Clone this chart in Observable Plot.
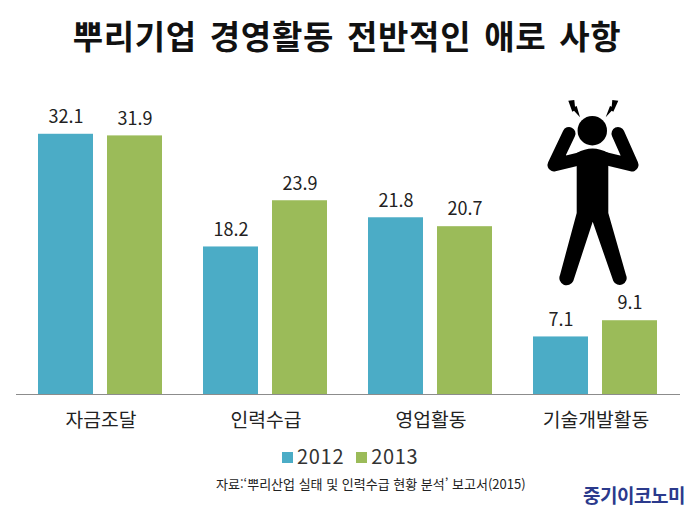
<!DOCTYPE html>
<html lang="ko"><head><meta charset="utf-8">
<script src="https://cdn.jsdelivr.net/npm/d3@7"></script>
<script src="https://cdn.jsdelivr.net/npm/@observablehq/plot@0.6"></script>
<style>
html,body{margin:0;padding:0;background:#fff;}
body{width:700px;height:517px;position:relative;overflow:hidden;font-family:"Noto Sans CJK KR","Noto Sans",sans-serif;color:#111;}
#title{position:absolute;left:0;top:12px;width:694px;text-align:center;font-size:33px;font-weight:700;line-height:46px;letter-spacing:.7px;white-space:nowrap;word-spacing:3px;}
#chart{position:absolute;left:0;top:90px;}
#legend{position:absolute;left:282px;top:443px;font-size:20px;line-height:26px;color:#333;white-space:nowrap;letter-spacing:.7px;}
#legend i{display:inline-block;width:11px;height:11px;margin-right:4px;vertical-align:1px;}
#legend span{margin-right:12px;}
#cap{position:absolute;left:216px;top:474px;font-size:13px;line-height:20px;color:#222;white-space:nowrap;}
#brand{position:absolute;left:583px;top:482px;font-size:19px;line-height:26px;font-weight:700;color:#2b3a8c;white-space:nowrap;letter-spacing:-.5px;}
#icon{position:absolute;left:0;top:0;}
</style></head><body>
<div id="title">뿌리기업 경영활동 전반적인 애로 사항</div>
<div id="chart"></div>
<div id="legend"></div>
<div id="cap">자료:‘뿌리산업 실태 및 인력수급 현황 분석’ 보고서(2015)</div>
<div id="brand">중기이코노미</div>
<svg id="icon" width="700" height="517" viewBox="0 0 700 517">
  <circle cx="592.3" cy="130.7" r="14.7"/>
  <path d="M569 133.5 L554 165 L583 158" fill="none" stroke="#000" stroke-width="13" stroke-linecap="round" stroke-linejoin="round"/>
  <path d="M618 133.5 L632 165 L603 158" fill="none" stroke="#000" stroke-width="13" stroke-linecap="round" stroke-linejoin="round"/>
  <path d="M576.7 153 Q592.5 144 608.3 153 L608.3 213 L626 275 A6.8 6.8 0 0 1 613.3 281 L592.7 221.7 L573.3 281 A6.8 6.8 0 0 1 560 275 L576.7 213 Z"/>
  <path d="M568.3 100.7 L574.3 100 L575 106.7 L576.7 106 L580 117.3 L574 110.7 L572.3 111.7 Z"/>
  <path d="M618.3 100.7 L612.3 100 L611.7 106.7 L610 106 L605.7 117.3 L611.7 110.7 L613.3 111.7 Z"/>
</svg>
<script>
const categories = ["자금조달", "인력수급", "영업활동", "기술개발활동"];
const years = ["2012", "2013"];
const values2012 = [32.1, 18.2, 21.8, 7.1];
const values2013 = [31.9, 23.9, 20.7, 9.1];
const colors = ["#4bacc6", "#9bbb59"];

const rows = categories.flatMap((c, i) => [
  {category: c, year: years[0], value: values2012[i]},
  {category: c, year: years[1], value: values2013[i]}
]);

const plot = Plot.plot({
  width: 700, height: 350,
  marginTop: 0, marginBottom: 46, marginLeft: 16, marginRight: 21,
  style: {fontFamily: '"Noto Sans CJK KR","Noto Sans",sans-serif', background: "transparent", overflow: "visible"},
  fx: {domain: categories, padding: 0, label: null},
  x: {domain: years, paddingInner: 0.2, paddingOuter: 0.28, axis: null},
  y: {domain: [0, 37.5], axis: null},
  color: {domain: years, range: colors},
  marks: [
    Plot.axisFx({anchor: "bottom", tickSize: 0, tickPadding: 19, label: null, fontSize: 19.3, fill: "#222"}),
    Plot.barY(rows, {fx: "category", x: "year", y: "value", fill: "year"}),
    Plot.ruleY([0], {stroke: "#8c8c8c", strokeWidth: 1.2, insetLeft: -2, insetRight: -2}),
    Plot.text(rows, {fx: "category", x: "year", y: "value", text: d => d.value.toFixed(1), dy: -17, fontSize: 18, fill: "#222"})
  ]
});
document.getElementById("chart").append(plot);

const legend = document.getElementById("legend");
years.forEach((y, i) => {
  const s = document.createElement("span");
  const sw = document.createElement("i");
  sw.style.background = colors[i];
  s.append(sw, y);
  legend.append(s);
});
</script>
</body></html>
